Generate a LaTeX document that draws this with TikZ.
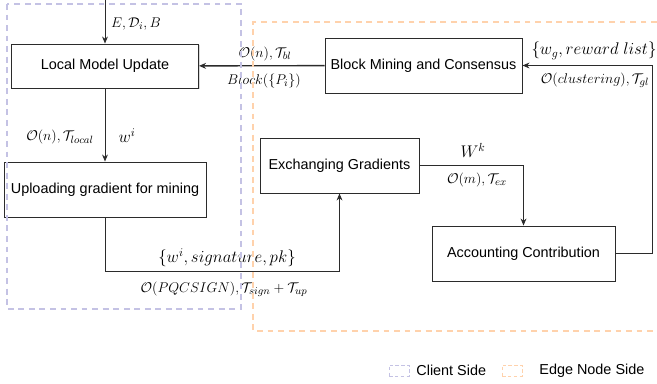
\documentclass[tikz,border=0pt]{standalone}
\usepackage[no-math]{fontspec}
\setmainfont{Liberation Sans}
\usepackage{amsmath}
\usetikzlibrary{positioning, arrows.meta, shadows}
\definecolor{clientline}{HTML}{C4C2E4}
\definecolor{edgeline}{HTML}{FFD2AC}
\definecolor{boxline}{HTML}{2B2B2B}

\begin{document}
\begin{tikzpicture}[x=0.03cm, y=-0.03cm,
    box/.style={draw=boxline, fill=white, line width=0.8pt, font=\fontsize{12.3}{14}\selectfont, inner sep=0pt, minimum height=1.65cm,
      drop shadow={shadow xshift=1.2pt, shadow yshift=-1.2pt, fill=black!15, opacity=1}},
    lbl/.style={font=\fontsize{12.3}{14}\selectfont, inner sep=1pt},
    biglbl/.style={font=\fontsize{14.2}{16}\selectfont, inner sep=1pt},
    link/.style={-{Stealth[length=6pt, width=5pt]}, draw=boxline, line width=0.8pt},
    region/.style={line width=1.2pt, dash pattern=on 5pt off 4pt},
    keybox/.style={line width=0.8pt, dash pattern=on 3pt off 2pt, minimum width=0.6cm, minimum height=0.33cm, inner sep=0pt}]
  \useasboundingbox (0,0) rectangle (657,383);

  % steps
  \node[box, minimum width=5.61cm, minimum height=1.32cm] (lmu) at (105,66) {Local Model Update};
  \node[box, minimum width=6.06cm] (upl) at (105,189.5) {Uploading gradient for mining};
  \node[box, minimum width=5.91cm] (bmc) at (423.5,65.5) {Block Mining and Consensus};
  \node[box, minimum width=4.77cm] (exg) at (339.5,165.5) {Exchanging Gradients};
  \node[box, minimum width=5.49cm] (acc) at (523.5,253.5) {Accounting Contribution};
  \coordinate (src) at (105,0);

  % flows
  \draw[link] (src) -- (lmu);
  \draw[link] (lmu) -- (upl);
  \draw[link, line width=1.2pt] (bmc) -- (lmu);
  \draw[link] (upl.south) -- ++(0,54) -| (exg.south);
  \draw[link] (exg.east) -| (acc.north);
  \draw[link] (acc.east) -- ++(37,0) |- (bmc.east);

  % costs
  \node[lbl] (l1) at (136,24) {$E, \mathcal{D}_i, B$};
  \node[lbl] (l2) at (60,137) {$\mathcal{O}(n), \mathcal{T}_{local}$};
  \node[biglbl] (l3) at (127,136) {$w^i$};
  \node[lbl] (l4) at (265,54) {$\mathcal{O}(n), \mathcal{T}_{bl}$};
  \node[lbl] (l5) at (264,81) {$Block(\{P_i\})$};
  \node[biglbl] (l6) at (594,51) {$\{w_g, reward\ list\}$};
  \node[lbl] (l7) at (595,80) {$\mathcal{O}(clustering), \mathcal{T}_{gl}$};
  \node[biglbl] (l8) at (473,150) {$W^k$};
  \node[lbl] (l9) at (477,180) {$\mathcal{O}(m), \mathcal{T}_{ex}$};
  \node[biglbl] (l10) at (227,258) {$\{w^i, signature, pk\}$};
  \node[lbl] (l11) at (224,289) {$\mathcal{O}(PQCSIGN), \mathcal{T}_{sign} + \mathcal{T}_{up}$};

  % sides
  \draw[region, draw=clientline] (7,4) rectangle (241,309);
  \draw[region, draw=edgeline] (657,22) -- (253,22) -- (253,331) -- (657,331);

  % key
  \node[keybox, draw=clientline] (kc) at (399,370.5) {};
  \node[lbl, anchor=west] (kct) at (415,370.5) {Client Side};
  \node[keybox, draw=edgeline] (ke) at (512,370.5) {};
  \node[lbl, anchor=west] (ket) at (538,370.5) {Edge Node Side};
\end{tikzpicture}
\end{document}
